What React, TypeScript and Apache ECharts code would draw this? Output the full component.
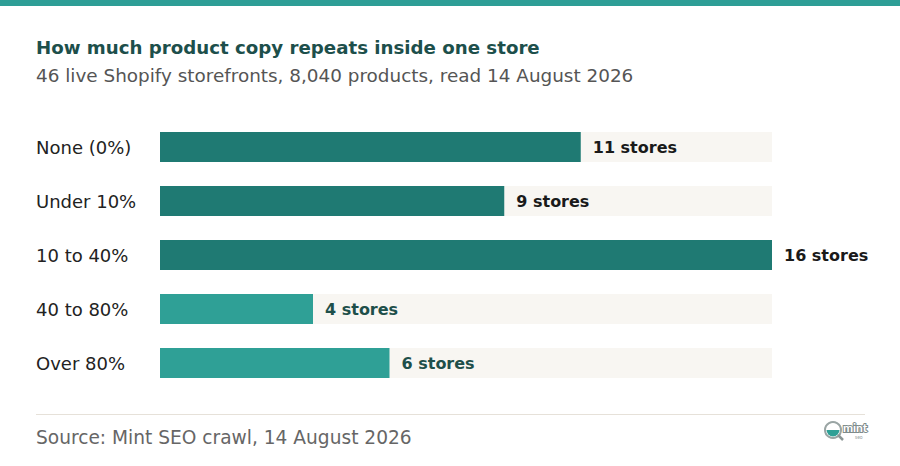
import React, { useEffect, useRef } from "react";
import * as echarts from "echarts";

const categories = ["None (0%)", "Under 10%", "10 to 40%", "40 to 80%", "Over 80%"];
const storeCounts = [11, 9, 16, 4, 6];
const barColors = ["#1F7A73", "#1F7A73", "#1F7A73", "#2FA096", "#2FA096"];
const labelColors = ["#1A1A1A", "#1A1A1A", "#1A1A1A", "#1E4F4A", "#1E4F4A"];
const axisMax = 16;

const titleText = "How much product copy repeats inside one store";
const subtitleText = "46 live Shopify storefronts, 8,040 products, read 14 August 2026";
const sourceText = "Source: Mint SEO crawl, 14 August 2026";

const FONT = "'DejaVu Sans', sans-serif";
const BOLD_FONT = "'DejaVu Sans', sans-serif";

export default function App() {
  const ref = useRef<HTMLDivElement>(null);
  useEffect(() => {
    if (!ref.current) return;
    const chart = echarts.init(ref.current, null, { renderer: "svg" });
    chart.setOption({
      animation: false,
      backgroundColor: "#FFFFFF",
      grid: { left: 160, top: 120, width: 612, height: 270, containLabel: false },
      xAxis: {
        type: "value",
        min: 0,
        max: axisMax,
        show: false,
      },
      yAxis: {
        type: "category",
        data: categories,
        inverse: true,
        axisLine: { show: false },
        axisTick: { show: false },
        axisLabel: {
          align: "left",
          margin: 124,
          color: "#222222",
          fontSize: 18,
          fontFamily: FONT,
          padding: [4, 0, 0, 0],
        },
      },
      series: [
        {
          type: "bar",
          barWidth: 30,
          showBackground: true,
          backgroundStyle: { color: "#F8F6F2" },
          data: storeCounts.map((v, i) => ({
            value: v,
            itemStyle: { color: barColors[i] },
            label: { color: labelColors[i] },
          })),
          label: {
            show: true,
            position: "right",
            distance: 12,
            fontSize: 16,
            fontWeight: "bold",
            fontFamily: BOLD_FONT,
            padding: [3, 0, 0, 0],
            formatter: (p: any) => `${p.value} stores`,
          },
        },
      ],
      graphic: [
        { type: "rect", left: 0, top: 0, shape: { width: 900, height: 6 }, style: { fill: "#2E9E96" } },
        {
          type: "text",
          left: 36,
          top: 38,
          style: { text: titleText, fill: "#1D4F4B", font: `bold 18.2px ${BOLD_FONT}` },
        },
        {
          type: "text",
          left: 36,
          top: 66,
          style: { text: subtitleText, fill: "#555555", font: `18.4px ${FONT}` },
        },
        {
          type: "line",
          shape: { x1: 36, y1: 414.5, x2: 865, y2: 414.5 },
          style: { stroke: "#E6E1D9", lineWidth: 1 },
        },
        {
          type: "text",
          left: 36,
          top: 428,
          style: { text: sourceText, fill: "#666666", font: `18.6px ${FONT}` },
        },
        {
          type: "group",
          left: 824,
          top: 420,
          children: [
            { type: "circle", shape: { cx: 9, cy: 9, r: 8 }, style: { fill: "#FFFFFF", stroke: "#9AA5A4", lineWidth: 2 } },
            { type: "sector", shape: { cx: 9, cy: 9, r: 6.5, startAngle: 0, endAngle: Math.PI }, style: { fill: "#2FA096" } },
            { type: "line", shape: { x1: 14, y1: 14, x2: 19, y2: 19 }, style: { stroke: "#8A9594", lineWidth: 2.5 } },
            { type: "text", x: 19, y: 0, style: { text: "mint", fill: "#FFFFFF", stroke: "#7F8C8B", lineWidth: 2, font: `bold 12px Lato, sans-serif` } },
            { type: "text", x: 31, y: 13, style: { text: "seo", fill: "#9AA5A4", font: `5px Lato, sans-serif` } },
          ],
        },
      ],
    });
    return () => chart.dispose();
  }, []);
  return <div ref={ref} style={{ width: 900, height: 466, position: "absolute", left: 0, top: 0 }} />;
}
